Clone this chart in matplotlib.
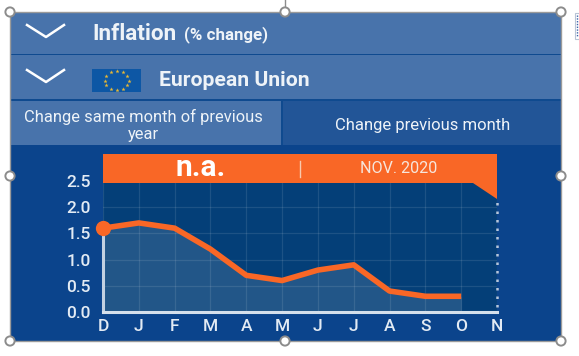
import math
import matplotlib
matplotlib.use("Agg")
import matplotlib.pyplot as plt
from matplotlib.patches import Rectangle, Polygon, Circle, Ellipse

plt.rcParams['font.family'] = ['Roboto', 'DejaVu Sans']

months = ['D', 'J', 'F', 'M', 'A', 'M', 'J', 'J', 'A', 'S', 'O', 'N']
values = [1.6, 1.7, 1.6, 1.2, 0.7, 0.6, 0.8, 0.9, 0.4, 0.3, 0.3]
y_ticks = [0.0, 0.5, 1.0, 1.5, 2.0, 2.5]
y_labels = ['0.0', '0.5', '1.0', '1.5', '2.0', '2.5']

W, H = 579, 356
fig = plt.figure(figsize=(W / 100, H / 100), dpi=100, facecolor='white')

bg = fig.add_axes([0, 0, 1, 1])
bg.set_xlim(0, W)
bg.set_ylim(H, 0)
bg.axis('off')

HEAD = '#4873ab'
DARK = '#0b448c'
TAB = '#225597'
SEP = '#0f4a8f'
ORANGE = '#f96726'
TXT = '#eef3f8'

def rect(x0, y0, x1, y1, c, z=1):
    bg.add_patch(Rectangle((x0, y0), x1 - x0, y1 - y0, fc=c, ec='none', zorder=z))

rect(10, 12, 561, 341, DARK)
rect(10, 12, 561, 54, HEAD)
rect(10, 55, 561, 99, HEAD)
rect(10, 54, 561, 55, SEP, 2)
rect(10, 99, 561, 101, SEP, 2)
rect(10, 101, 281, 145, HEAD)
rect(283, 101, 561, 145, TAB)
rect(281, 101, 283, 145, SEP)

# chevrons
for yy in (25, 70):
    bg.plot([27, 46, 64], [yy, yy + 12, yy], color='white', lw=1.8, zorder=3)

bg.text(92, 33.5, 'Inflation', color=TXT, fontsize=16.2, fontweight='bold', va='center', ha='left', zorder=3)
bg.text(184, 35, '(% change)', color=TXT, fontsize=12.2, fontweight='bold', va='center', ha='left', zorder=3)
bg.text(159, 80.5, 'European Union', color=TXT, fontsize=15.2, fontweight='bold', va='center', ha='left', zorder=3)

# EU flag
rect(92, 69, 141, 92, '#0d57a5', 2)
for k in range(12):
    a = k * math.pi / 6
    bg.plot(116.5 + 12 * math.cos(a), 80.5 + 9.5 * math.sin(a), marker='*', ms=3.2,
            color='#e9b934', mec='none', zorder=3)

bg.text(143, 116.5, 'Change same month of previous', color=TXT, fontsize=11.9, va='center', ha='center', zorder=3)
bg.text(143, 134.5, 'year', color=TXT, fontsize=11.9, va='center', ha='center', zorder=3)
bg.text(423, 125.5, 'Change previous month', color=TXT, fontsize=12, va='center', ha='center', zorder=3)

# chart
L, R, T, B = 103, 497, 181, 312
ax = fig.add_axes([L / W, (H - B) / H, (R - L) / W, (B - T) / H], zorder=2)
ax.set_facecolor('#043f78')
x = list(range(len(values)))
ax.set_xlim(0, len(months) - 1)
ax.set_ylim(0, 2.5)
ax.set_xticks(range(len(months)))
ax.set_xticklabels(months)
ax.set_yticks(y_ticks)
ax.set_yticklabels(y_labels)
ax.tick_params(length=0, colors='#e3ebf4', labelsize=12.5)
ax.tick_params(axis='y', pad=9)
ax.tick_params(axis='x', pad=5)
for lab in ax.get_xticklabels() + ax.get_yticklabels():
    lab.set_fontweight('medium')
ax.grid(True, color='#ffffff', alpha=0.1, lw=0.9)
ax.set_axisbelow(True)
for s in ax.spines.values():
    s.set_visible(False)
ax.fill_between(x, values, 0, color='#ffffff', alpha=0.12, lw=0, zorder=2)
ax.plot([0, 0], [0, values[0]], color='#c3d1e2', lw=2.2, zorder=3, clip_on=False)
ax.plot([0, len(months) - 1], [0, 0], color='#d5e0ec', lw=2.2, zorder=3, clip_on=False)
ax.plot([len(months) - 1] * 2, [0.1, 2.2], color='#b6c6da', lw=1.8, ls=(0, (1, 2.4)), zorder=3, clip_on=False)
ax.plot(x, values, color=ORANGE, lw=4, zorder=5, solid_joinstyle='round', solid_capstyle='butt', clip_on=False)
ax.plot(x[0], values[0], 'o', color=ORANGE, ms=11, mec='none', zorder=6, clip_on=False)

# orange banner (drawn above the chart)
top = fig.add_axes([0, 0, 1, 1], zorder=3)
top.set_xlim(0, W)
top.set_ylim(H, 0)
top.axis('off')
top.patch.set_alpha(0)
top.add_patch(Polygon([(103, 154), (497, 154), (497, 199), (473, 183), (103, 183)], fc=ORANGE, ec='none'))
top.plot([300, 300], [161, 177], color='#f8c9ae', lw=1)
top.text(201, 168.5, 'n.a.', color='white', fontsize=21.5, fontweight='bold', va='center', ha='center')
top.text(399, 168.5, 'NOV. 2020', color='#f6e6dc', fontsize=11.6, va='center', ha='center')

# frame and selection handles
top.add_patch(Rectangle((10, 12), 551, 329, fc='none', ec='#9a9a9a', lw=1))
for hx, hy in [(10, 12), (285, 12), (561, 12), (10, 176), (561, 176), (10, 341), (285, 341), (561, 341)]:
    top.add_patch(Circle((hx, hy), 4.6, fc='white', ec='#8c8c8c', lw=1.4, zorder=5))
top.plot([285, 285], [0, 8], color='#8c8c8c', lw=1)
top.add_patch(Rectangle((574.5, 13), 6, 26, fc='white', ec='#b8c4d6', lw=0.8))
top.plot([577, 577], [15, 37], color='#3c62a8', lw=1, ls=(0, (1, 1)))

fig.savefig('out.png', dpi=100)
